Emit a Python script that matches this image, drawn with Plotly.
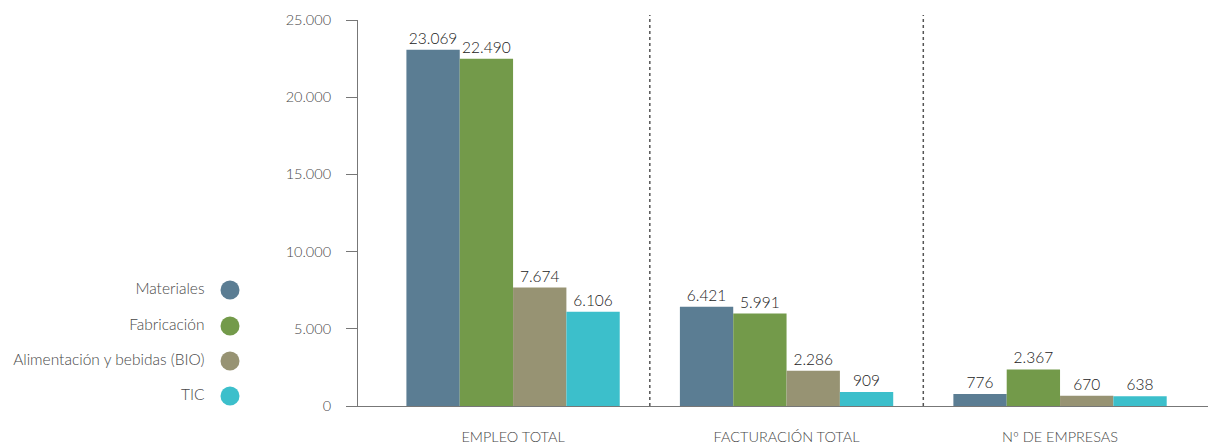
import plotly.graph_objects as go

categories = ["EMPLEO TOTAL", "FACTURACIÓN TOTAL", "Nº DE EMPRESAS"]
series_names = ["Materiales", "Fabricación", "Alimentación y bebidas (BIO)", "TIC"]
materiales = [23069, 6421, 776]
fabricacion = [22490, 5991, 2367]
bio = [7674, 2286, 670]
tic = [6106, 909, 638]
y_ticks = [0, 5000, 10000, 15000, 20000, 25000]

colors = ["#5b7d93", "#739a4a", "#979373", "#3cbfcb"]
series = [materiales, fabricacion, bio, tic]
FONT = "Lato"
W = 300
LABEL_C = "#474747"

fig = go.Figure()
xpos = list(range(len(categories)))
for name, vals, col in zip(series_names, series, colors):
    fig.add_trace(go.Bar(
        x=xpos, y=vals, name=name, marker=dict(color=col, line=dict(width=0)),
        texttemplate="%{y:,}", textposition="outside", cliponaxis=False,
        textfont=dict(family=FONT, size=15.5, color="#1a1a1a", weight=W),
        showlegend=False, hoverinfo="skip",
    ))

# custom legend (text left of circle) on a helper axis in pixel-like units
leg_y = [290, 326, 361, 396]
fig.add_trace(go.Scatter(
    x=[230] * 4, y=leg_y, mode="markers+text", text=[s + "   " for s in series_names],
    textposition="middle left",
    textfont=dict(family=FONT, size=15.5, color=LABEL_C, weight=W),
    marker=dict(size=19, color=colors, line=dict(width=0)),
    xaxis="x2", yaxis="y2", showlegend=False, hoverinfo="skip", cliponaxis=False,
))

# dotted separators between groups
for xv in [0.5, 1.5]:
    fig.add_shape(type="line", x0=xv, x1=xv, xref="x", yref="paper", y0=0, y1=1.013,
                  line=dict(color="#555555", width=1.5, dash="dot"))

fig.update_layout(
    width=1208, height=445,
    margin=dict(l=0, r=0, t=20, b=39),
    paper_bgcolor="white", plot_bgcolor="white",
    barmode="group", bargap=0.22, bargroupgap=0,
    separators=",.",
    font=dict(family=FONT, size=14, color=LABEL_C, weight=W),
    xaxis=dict(
        domain=[358 / 1208, 1], range=[-0.567, 2.541],
        tickvals=xpos, ticktext=categories, ticks="",
        showgrid=False, zeroline=False, showline=True, linecolor="#777777", linewidth=1,
        tickfont=dict(family=FONT, size=14.5, color=LABEL_C, weight=W), ticklabelstandoff=18,
    ),
    yaxis=dict(
        range=[0, 25000], tickvals=y_ticks, tickformat=",d",
        showgrid=False, zeroline=False, showline=True, linecolor="#777777", linewidth=1,
        ticks="outside", ticklen=11, tickcolor="#777777",
        tickfont=dict(family=FONT, size=14.5, color=LABEL_C, weight=W), ticklabelstandoff=12,
    ),
    xaxis2=dict(domain=[0, 0.25], range=[0, 302], visible=False, fixedrange=True),
    yaxis2=dict(domain=[0, 1], range=[406, 20], visible=False, fixedrange=True, anchor="x2"),
)

fig.write_html("out.html", config={"displayModeBar": False},
               post_script="document.body.style.margin='0';document.body.style.overflow='hidden';")
